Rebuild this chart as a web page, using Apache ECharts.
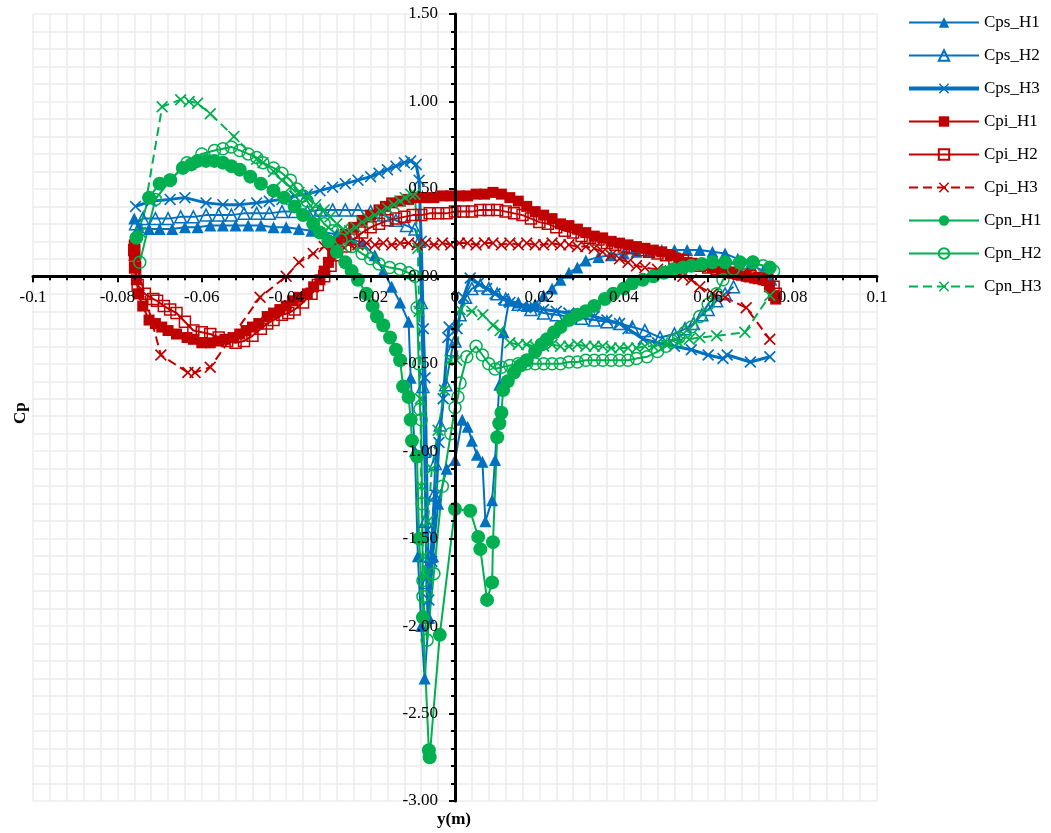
<!DOCTYPE html>
<html>
<head>
<meta charset="utf-8">
<script src="https://cdn.jsdelivr.net/npm/echarts@6/dist/echarts.min.js"></script>
<style>
html,body{margin:0;padding:0;background:#fff;}
#chart{width:1051px;height:833px;}
</style>
</head>
<body>
<div id="chart"></div>
<script>
// ---- axis ticks ----
const xTicks = [-0.1, -0.08, -0.06, -0.04, -0.02, 0, 0.02, 0.04, 0.06, 0.08, 0.1];
const yTicks = [-3.0, -2.5, -2.0, -1.5, -1.0, -0.5, 0.0, 0.5, 1.0, 1.5];
const seriesNames = ['Cps_H1','Cps_H2','Cps_H3','Cpi_H1','Cpi_H2','Cpi_H3','Cpn_H1','Cpn_H2','Cpn_H3'];

// ---- data: [y (m), Cp] ----
const cpsH1 = [[-0.076,0.33],[-0.075,0.28],[-0.0725,0.27],[-0.07,0.27],[-0.067,0.27],[-0.064,0.28],[-0.061,0.28],[-0.058,0.29],[-0.055,0.29],[-0.052,0.29],[-0.049,0.29],[-0.046,0.29],[-0.043,0.28],[-0.04,0.28],[-0.037,0.27],[-0.034,0.26],[-0.031,0.25],[-0.028,0.24],[-0.025,0.22],[-0.022,0.19],[-0.019,0.12],[-0.017,0.03],[-0.015,-0.06],[-0.013,-0.15],[-0.011,-0.26],[-0.0105,-0.58],[-0.0095,-1.0],[-0.0088,-1.6],[-0.008,-2.0],[-0.0072,-2.3],[-0.0062,-1.95],[-0.0052,-1.6],[-0.004,-1.3],[-0.002,-1.1],[0.0,-1.05],[0.0017,-0.82],[0.003,-0.86],[0.004,-0.94],[0.0052,-1.02],[0.0065,-1.06],[0.0072,-1.4],[0.0088,-1.28],[0.0095,-1.05],[0.0105,-0.62],[0.0115,-0.32],[0.0128,-0.14],[0.015,-0.15],[0.017,-0.17],[0.019,-0.16],[0.021,-0.11],[0.023,-0.07],[0.025,-0.02],[0.027,0.02],[0.029,0.05],[0.031,0.09],[0.034,0.11],[0.037,0.12],[0.04,0.13],[0.043,0.14],[0.046,0.14],[0.049,0.15],[0.052,0.15],[0.055,0.15],[0.058,0.15],[0.061,0.14],[0.064,0.13],[0.067,0.1],[0.07,0.07],[0.073,0.03],[0.075,-0.02]];
const cpsH2 = [[-0.0757,0.30],[-0.074,0.33],[-0.071,0.33],[-0.068,0.33],[-0.065,0.34],[-0.062,0.34],[-0.059,0.35],[-0.056,0.35],[-0.053,0.35],[-0.05,0.36],[-0.047,0.36],[-0.044,0.36],[-0.041,0.37],[-0.038,0.37],[-0.035,0.37],[-0.032,0.38],[-0.029,0.38],[-0.026,0.38],[-0.023,0.38],[-0.02,0.37],[-0.017,0.35],[-0.014,0.32],[-0.0115,0.29],[-0.0095,0.27],[-0.0085,0.2],[-0.008,-0.15],[-0.0076,-0.63],[-0.0073,-1.0],[-0.007,-1.4],[-0.0068,-1.75],[-0.0065,-1.95],[-0.0058,-1.6],[-0.005,-1.25],[-0.0047,-1.07],[-0.0035,-0.85],[-0.0022,-0.62],[-0.0007,-0.42],[0.0,-0.37],[0.0012,-0.22],[0.0025,-0.12],[0.004,-0.07],[0.006,-0.05],[0.008,-0.07],[0.01,-0.1],[0.012,-0.13],[0.015,-0.16],[0.018,-0.19],[0.021,-0.21],[0.024,-0.22],[0.027,-0.23],[0.03,-0.24],[0.033,-0.25],[0.036,-0.26],[0.039,-0.27],[0.042,-0.29],[0.045,-0.31],[0.0486,-0.35],[0.052,-0.33],[0.0545,-0.3],[0.0565,-0.27],[0.0585,-0.22],[0.06,-0.19],[0.062,-0.14],[0.064,-0.1],[0.066,-0.06]];
const cpsH3 = [[-0.0757,0.40],[-0.072,0.43],[-0.0675,0.44],[-0.064,0.45],[-0.059,0.42],[-0.055,0.41],[-0.051,0.41],[-0.047,0.42],[-0.044,0.43],[-0.041,0.44],[-0.038,0.46],[-0.035,0.47],[-0.032,0.49],[-0.029,0.51],[-0.026,0.53],[-0.023,0.55],[-0.02,0.57],[-0.018,0.59],[-0.016,0.61],[-0.014,0.63],[-0.012,0.65],[-0.0105,0.66],[-0.0092,0.64],[-0.0085,0.55],[-0.008,0.2],[-0.0075,-0.3],[-0.0071,-0.58],[-0.0068,-1.0],[-0.0065,-1.45],[-0.0062,-1.85],[-0.0055,-1.63],[-0.0045,-1.25],[-0.0038,-0.95],[-0.0028,-0.7],[-0.0017,-0.35],[-0.0014,-0.29],[0.0005,-0.3],[0.002,-0.12],[0.0036,-0.01],[0.0055,-0.04],[0.0075,-0.07],[0.0095,-0.1],[0.0115,-0.13],[0.013,-0.15],[0.016,-0.17],[0.019,-0.18],[0.021,-0.19],[0.024,-0.2],[0.027,-0.21],[0.03,-0.22],[0.033,-0.23],[0.036,-0.25],[0.039,-0.27],[0.041,-0.3],[0.0446,-0.36],[0.048,-0.38],[0.052,-0.4],[0.056,-0.42],[0.06,-0.45],[0.0635,-0.47],[0.0645,-0.45],[0.07,-0.49],[0.0746,-0.46]];
const cpiH1 = [[-0.076,0.18],[-0.076,0.12],[-0.0758,0.05],[-0.0755,-0.02],[-0.075,-0.1],[-0.074,-0.17],[-0.0725,-0.25],[-0.071,-0.27],[-0.0695,-0.29],[-0.068,-0.31],[-0.066,-0.33],[-0.0635,-0.35],[-0.062,-0.36],[-0.06,-0.38],[-0.058,-0.38],[-0.056,-0.37],[-0.0545,-0.36],[-0.0526,-0.35],[-0.051,-0.33],[-0.0495,-0.31],[-0.048,-0.29],[-0.0465,-0.27],[-0.0445,-0.23],[-0.043,-0.21],[-0.0415,-0.19],[-0.04,-0.17],[-0.0385,-0.14],[-0.037,-0.12],[-0.035,-0.1],[-0.0335,-0.06],[-0.032,-0.02],[-0.031,0.03],[-0.03,0.08],[-0.029,0.14],[-0.028,0.19],[-0.026,0.24],[-0.024,0.28],[-0.022,0.32],[-0.02,0.35],[-0.018,0.38],[-0.0165,0.4],[-0.015,0.42],[-0.013,0.43],[-0.011,0.44],[-0.009,0.45],[-0.007,0.45],[-0.005,0.45],[-0.003,0.46],[-0.001,0.46],[0.001,0.46],[0.003,0.46],[0.005,0.47],[0.007,0.47],[0.009,0.48],[0.011,0.47],[0.013,0.45],[0.015,0.43],[0.017,0.4],[0.019,0.37],[0.021,0.35],[0.023,0.33],[0.025,0.3],[0.027,0.29],[0.029,0.27],[0.031,0.25],[0.033,0.23],[0.035,0.22],[0.037,0.2],[0.039,0.19],[0.041,0.18],[0.043,0.17],[0.045,0.16],[0.047,0.15],[0.049,0.14],[0.051,0.12],[0.053,0.1],[0.055,0.08],[0.057,0.07],[0.059,0.06],[0.061,0.05],[0.063,0.03],[0.065,0.02],[0.067,0.01],[0.069,0.0],[0.071,-0.01],[0.073,-0.02],[0.0745,-0.06],[0.0755,-0.11],[0.076,-0.13]];
const cpiH2 = [[-0.076,0.15],[-0.0758,0.05],[-0.0752,-0.05],[-0.0735,-0.1],[-0.0715,-0.13],[-0.0706,-0.14],[-0.069,-0.17],[-0.0675,-0.19],[-0.066,-0.21],[-0.064,-0.26],[-0.062,-0.31],[-0.06,-0.32],[-0.058,-0.33],[-0.056,-0.35],[-0.054,-0.37],[-0.052,-0.38],[-0.05,-0.37],[-0.048,-0.34],[-0.046,-0.3],[-0.0445,-0.27],[-0.043,-0.25],[-0.041,-0.22],[-0.0395,-0.21],[-0.038,-0.19],[-0.036,-0.15],[-0.034,-0.1],[-0.0325,-0.05],[-0.031,0.0],[-0.0295,0.06],[-0.028,0.12],[-0.026,0.17],[-0.024,0.21],[-0.022,0.25],[-0.02,0.28],[-0.018,0.3],[-0.016,0.32],[-0.014,0.33],[-0.012,0.34],[-0.01,0.35],[-0.008,0.35],[-0.006,0.36],[-0.004,0.36],[-0.002,0.36],[0.0,0.37],[0.002,0.37],[0.004,0.37],[0.006,0.38],[0.008,0.38],[0.01,0.38],[0.012,0.37],[0.014,0.36],[0.016,0.35],[0.018,0.33],[0.02,0.31],[0.022,0.3],[0.024,0.28],[0.026,0.26],[0.028,0.25],[0.03,0.23],[0.032,0.22],[0.034,0.21],[0.036,0.19],[0.038,0.18],[0.04,0.17],[0.042,0.16],[0.044,0.15],[0.046,0.14],[0.048,0.13],[0.05,0.12],[0.052,0.1],[0.054,0.09],[0.056,0.07],[0.058,0.06],[0.06,0.05],[0.062,0.04],[0.064,0.03],[0.066,0.02],[0.068,0.01],[0.07,0.0],[0.072,-0.01],[0.074,-0.02],[0.0755,-0.06],[0.076,-0.1]];
const cpiH3 = [[-0.076,0.12],[-0.0697,-0.45],[-0.0633,-0.55],[-0.0616,-0.55],[-0.058,-0.52],[-0.0462,-0.12],[-0.04,0.0],[-0.037,0.08],[-0.0336,0.13],[-0.031,0.17],[-0.029,0.18],[-0.027,0.18],[-0.025,0.19],[-0.023,0.18],[-0.021,0.19],[-0.019,0.18],[-0.017,0.19],[-0.015,0.18],[-0.013,0.19],[-0.011,0.19],[-0.009,0.18],[-0.007,0.19],[-0.005,0.18],[-0.003,0.19],[-0.001,0.18],[0.001,0.19],[0.003,0.19],[0.005,0.18],[0.007,0.19],[0.009,0.19],[0.011,0.18],[0.013,0.19],[0.015,0.18],[0.017,0.19],[0.019,0.18],[0.021,0.18],[0.023,0.19],[0.025,0.18],[0.027,0.18],[0.029,0.17],[0.031,0.17],[0.033,0.16],[0.035,0.14],[0.037,0.12],[0.039,0.1],[0.041,0.08],[0.043,0.06],[0.045,0.05],[0.048,0.04],[0.051,0.03],[0.054,0.0],[0.056,-0.02],[0.058,-0.06],[0.061,-0.1],[0.064,-0.12],[0.069,-0.18],[0.0746,-0.36]];
const cpnH1 = [[-0.0755,0.22],[-0.0725,0.45],[-0.07,0.53],[-0.0675,0.55],[-0.0645,0.62],[-0.0625,0.64],[-0.061,0.66],[-0.059,0.66],[-0.057,0.66],[-0.055,0.65],[-0.053,0.63],[-0.051,0.61],[-0.0485,0.57],[-0.046,0.53],[-0.043,0.49],[-0.0405,0.45],[-0.038,0.4],[-0.036,0.35],[-0.0336,0.3],[-0.032,0.25],[-0.03,0.2],[-0.028,0.14],[-0.026,0.08],[-0.0245,0.03],[-0.023,-0.02],[-0.021,-0.1],[-0.0195,-0.17],[-0.0185,-0.23],[-0.017,-0.28],[-0.0154,-0.35],[-0.014,-0.42],[-0.013,-0.48],[-0.0123,-0.63],[-0.011,-0.69],[-0.0105,-0.82],[-0.0102,-0.94],[-0.009,-1.03],[-0.0085,-1.5],[-0.0076,-1.95],[-0.0062,-2.71],[-0.006,-2.75],[-0.0036,-2.05],[0.0,-1.33],[0.0036,-1.34],[0.0055,-1.49],[0.006,-1.56],[0.0076,-1.85],[0.0088,-1.75],[0.009,-1.52],[0.01,-0.92],[0.0105,-0.84],[0.011,-0.78],[0.0114,-0.65],[0.0125,-0.6],[0.014,-0.55],[0.0155,-0.51],[0.017,-0.48],[0.019,-0.43],[0.0205,-0.39],[0.0218,-0.36],[0.0235,-0.32],[0.025,-0.29],[0.027,-0.25],[0.029,-0.22],[0.031,-0.2],[0.033,-0.17],[0.0355,-0.13],[0.0375,-0.1],[0.04,-0.07],[0.042,-0.04],[0.0445,-0.02],[0.047,0.0],[0.0495,0.02],[0.0517,0.04],[0.054,0.05],[0.056,0.06],[0.0585,0.07],[0.061,0.08],[0.064,0.08],[0.0675,0.08],[0.0706,0.08],[0.0746,0.05]];
const cpnH2 = [[-0.0747,0.08],[-0.071,0.44],[-0.0675,0.55],[-0.0635,0.65],[-0.06,0.7],[-0.057,0.72],[-0.055,0.73],[-0.053,0.74],[-0.051,0.72],[-0.049,0.7],[-0.047,0.68],[-0.0455,0.65],[-0.043,0.62],[-0.041,0.59],[-0.039,0.55],[-0.0375,0.5],[-0.036,0.46],[-0.035,0.43],[-0.033,0.36],[-0.031,0.3],[-0.029,0.26],[-0.027,0.21],[-0.0245,0.17],[-0.022,0.13],[-0.02,0.1],[-0.018,0.07],[-0.0155,0.05],[-0.013,0.04],[-0.011,0.02],[-0.0095,0.0],[-0.009,-0.18],[-0.0086,-0.5],[-0.0083,-0.76],[-0.008,-0.82],[-0.0078,-1.3],[-0.0076,-1.74],[-0.0076,-1.83],[-0.0066,-2.08],[-0.005,-1.7],[-0.003,-1.2],[-0.001,-0.9],[0.0,-0.75],[0.0007,-0.69],[0.0012,-0.61],[0.0028,-0.46],[0.005,-0.4],[0.0065,-0.45],[0.008,-0.5],[0.0095,-0.53],[0.011,-0.52],[0.013,-0.51],[0.015,-0.5],[0.017,-0.5],[0.019,-0.5],[0.021,-0.5],[0.023,-0.5],[0.025,-0.5],[0.027,-0.49],[0.029,-0.49],[0.031,-0.48],[0.033,-0.48],[0.035,-0.48],[0.037,-0.48],[0.039,-0.48],[0.041,-0.48],[0.043,-0.47],[0.0455,-0.46],[0.048,-0.43],[0.05,-0.4],[0.0515,-0.37],[0.053,-0.35],[0.0545,-0.32],[0.056,-0.29],[0.058,-0.23],[0.06,-0.16],[0.062,-0.1],[0.0635,-0.02],[0.066,0.04],[0.068,0.07],[0.0706,0.08],[0.073,0.06],[0.0755,0.03]];
const cpnH3 = [[-0.0745,0.25],[-0.0694,0.97],[-0.065,1.01],[-0.063,1.0],[-0.061,0.99],[-0.058,0.93],[-0.0524,0.8],[-0.047,0.67],[-0.0455,0.65],[-0.043,0.6],[-0.041,0.55],[-0.039,0.51],[-0.037,0.48],[-0.035,0.45],[-0.033,0.41],[-0.031,0.38],[-0.0296,0.34],[-0.028,0.3],[-0.0265,0.27],[-0.025,0.26],[-0.0235,0.28],[-0.022,0.31],[-0.0205,0.33],[-0.019,0.35],[-0.0175,0.37],[-0.016,0.39],[-0.0145,0.41],[-0.013,0.43],[-0.0118,0.45],[-0.0105,0.47],[-0.0095,0.47],[-0.0088,0.16],[-0.0085,-0.2],[-0.0082,-0.7],[-0.008,-1.2],[-0.0076,-1.6],[-0.007,-1.72],[-0.0064,-1.4],[-0.0055,-1.1],[-0.004,-0.88],[-0.0025,-0.65],[-0.0012,-0.48],[0.0004,-0.48],[0.0012,-0.19],[0.004,-0.2],[0.0066,-0.22],[0.009,-0.28],[0.0107,-0.31],[0.013,-0.38],[0.015,-0.39],[0.017,-0.39],[0.019,-0.4],[0.021,-0.4],[0.023,-0.39],[0.025,-0.4],[0.027,-0.4],[0.029,-0.39],[0.031,-0.4],[0.033,-0.4],[0.035,-0.4],[0.037,-0.41],[0.039,-0.41],[0.041,-0.41],[0.043,-0.41],[0.045,-0.4],[0.047,-0.4],[0.05,-0.39],[0.053,-0.38],[0.0555,-0.36],[0.058,-0.35],[0.062,-0.34],[0.0687,-0.32],[0.0746,-0.11]];

// ---- styles ----
const BLUE = '#0070C0', RED = '#C00000', GREEN = '#00B050';
const X_SYM = 'path://M1,0L5,4L9,0L10,1L6,5L10,9L9,10L5,6L1,10L0,9L4,5L0,1Z';
const SERIF = '"Liberation Serif","Times New Roman",serif';

// plot-area geometry (pixels)
const G = { left: 33, right: 174, top: 14, bottom: 32, W: 1051, H: 833 };
const plotW = G.W - G.left - G.right, plotH = G.H - G.top - G.bottom;
const xMin = xTicks[0], xMax = xTicks[xTicks.length - 1];
const yMin = yTicks[0], yMax = yTicks[yTicks.length - 1];
// move axes so they cross at the origin
const yAxisOffset = -plotW * (0 - xMin) / (xMax - xMin);
const xAxisOffset = -plotH * (0 - yMin) / (yMax - yMin);

function mk(name, data, color, symbol, size, hollow, lw, dashed) {
  return {
    name: name, type: 'line', data: data, symbol: symbol, symbolSize: size,
    xAxisIndex: 0, yAxisIndex: 0,
    smooth: false, clip: false,
    lineStyle: { color: color, width: lw, type: dashed ? [9, 5] : 'solid' },
    itemStyle: hollow
      ? { color: 'rgba(255,255,255,0)', borderColor: color, borderWidth: 1.5 }
      : { color: color, borderWidth: 0 },
    emphasis: { disabled: true }
  };
}

const series = [
  mk(seriesNames[0], cpsH1, BLUE, 'triangle', 12, false, 2, false),
  mk(seriesNames[1], cpsH2, BLUE, 'triangle', 12, true, 2, false),
  mk(seriesNames[2], cpsH3, BLUE, X_SYM, 12, false, 3, false),
  mk(seriesNames[3], cpiH1, RED, 'rect', 11, false, 2, false),
  mk(seriesNames[4], cpiH2, RED, 'rect', 11, true, 2, false),
  mk(seriesNames[5], cpiH3, RED, X_SYM, 12, false, 2, true),
  mk(seriesNames[6], cpnH1, GREEN, 'circle', 14, false, 2, false),
  mk(seriesNames[7], cpnH2, GREEN, 'circle', 12, true, 2, false),
  mk(seriesNames[8], cpnH3, GREEN, X_SYM, 12, false, 2, true)
];

const gridLine = { show: true, lineStyle: { color: '#ececec', width: 1.5 } };
const labelFont = { fontFamily: SERIF, fontSize: 17, color: '#000' };

// grid-line axes (under the data)
const xGridAxis = {
  type: 'value', min: xMin, max: xMax, interval: 0.02, position: 'bottom', z: 0,
  axisLine: { show: false }, axisTick: { show: false }, axisLabel: { show: false },
  minorTick: { show: false, splitNumber: 5 },
  splitLine: gridLine, minorSplitLine: gridLine
};
const yGridAxis = {
  type: 'value', min: yMin, max: yMax, interval: 0.5, position: 'left', z: 0,
  axisLine: { show: false }, axisTick: { show: false }, axisLabel: { show: false },
  minorTick: { show: false, splitNumber: 5 },
  splitLine: gridLine, minorSplitLine: gridLine
};
// crossing axes (on top of the data)
const xMainAxis = {
  type: 'value', min: xMin, max: xMax, interval: 0.02, position: 'bottom',
  offset: xAxisOffset, z: 10,
  axisLine: { onZero: false, lineStyle: { color: '#000', width: 3 } },
  axisTick: { show: true, length: 6, lineStyle: { color: '#000', width: 2 } },
  minorTick: { show: true, splitNumber: 5, length: 4, lineStyle: { color: '#000', width: 2 } },
  splitLine: { show: false }, minorSplitLine: { show: false },
  axisLabel: Object.assign({ margin: 13, formatter: v => String(+v.toFixed(2)) }, labelFont)
};
const yMainAxis = {
  type: 'value', min: yMin, max: yMax, interval: 0.5, position: 'left',
  offset: yAxisOffset, z: 10,
  axisLine: { onZero: false, lineStyle: { color: '#000', width: 3 } },
  axisTick: { show: true, length: 6, lineStyle: { color: '#000', width: 2 } },
  minorTick: { show: true, splitNumber: 5, length: 4, lineStyle: { color: '#000', width: 2 } },
  splitLine: { show: false }, minorSplitLine: { show: false },
  axisLabel: Object.assign({ margin: 17, formatter: v => v.toFixed(2) }, labelFont)
};

const legendData = seriesNames.map((n, i) =>
  i === 2 ? { name: n, lineStyle: { width: 4 } } : { name: n });

const chart = echarts.init(document.getElementById('chart'));
chart.setOption({
  animation: false,
  backgroundColor: '#fff',
  grid: { left: G.left, right: G.right, top: G.top, bottom: G.bottom,
          containLabel: false, outerBoundsMode: 'none' },
  legend: {
    orient: 'vertical', left: 902, top: 9,
    itemWidth: 70, itemHeight: 13, itemGap: 16,
    data: legendData,
    textStyle: { fontFamily: SERIF, fontSize: 17, color: '#000', lineHeight: 17 },
    selectedMode: false
  },
  xAxis: [xGridAxis, xMainAxis],
  yAxis: [yGridAxis, yMainAxis],
  graphic: [
    { type: 'text', left: 437, top: 811,
      style: { text: 'y(m)', font: 'bold 17px ' + SERIF, fill: '#000' } },
    { type: 'text', x: 12, y: 424, rotation: Math.PI / 2,
      style: { text: 'Cp', font: 'bold 17px ' + SERIF, fill: '#000' } }
  ],
  series: series
});
</script>
</body>
</html>
